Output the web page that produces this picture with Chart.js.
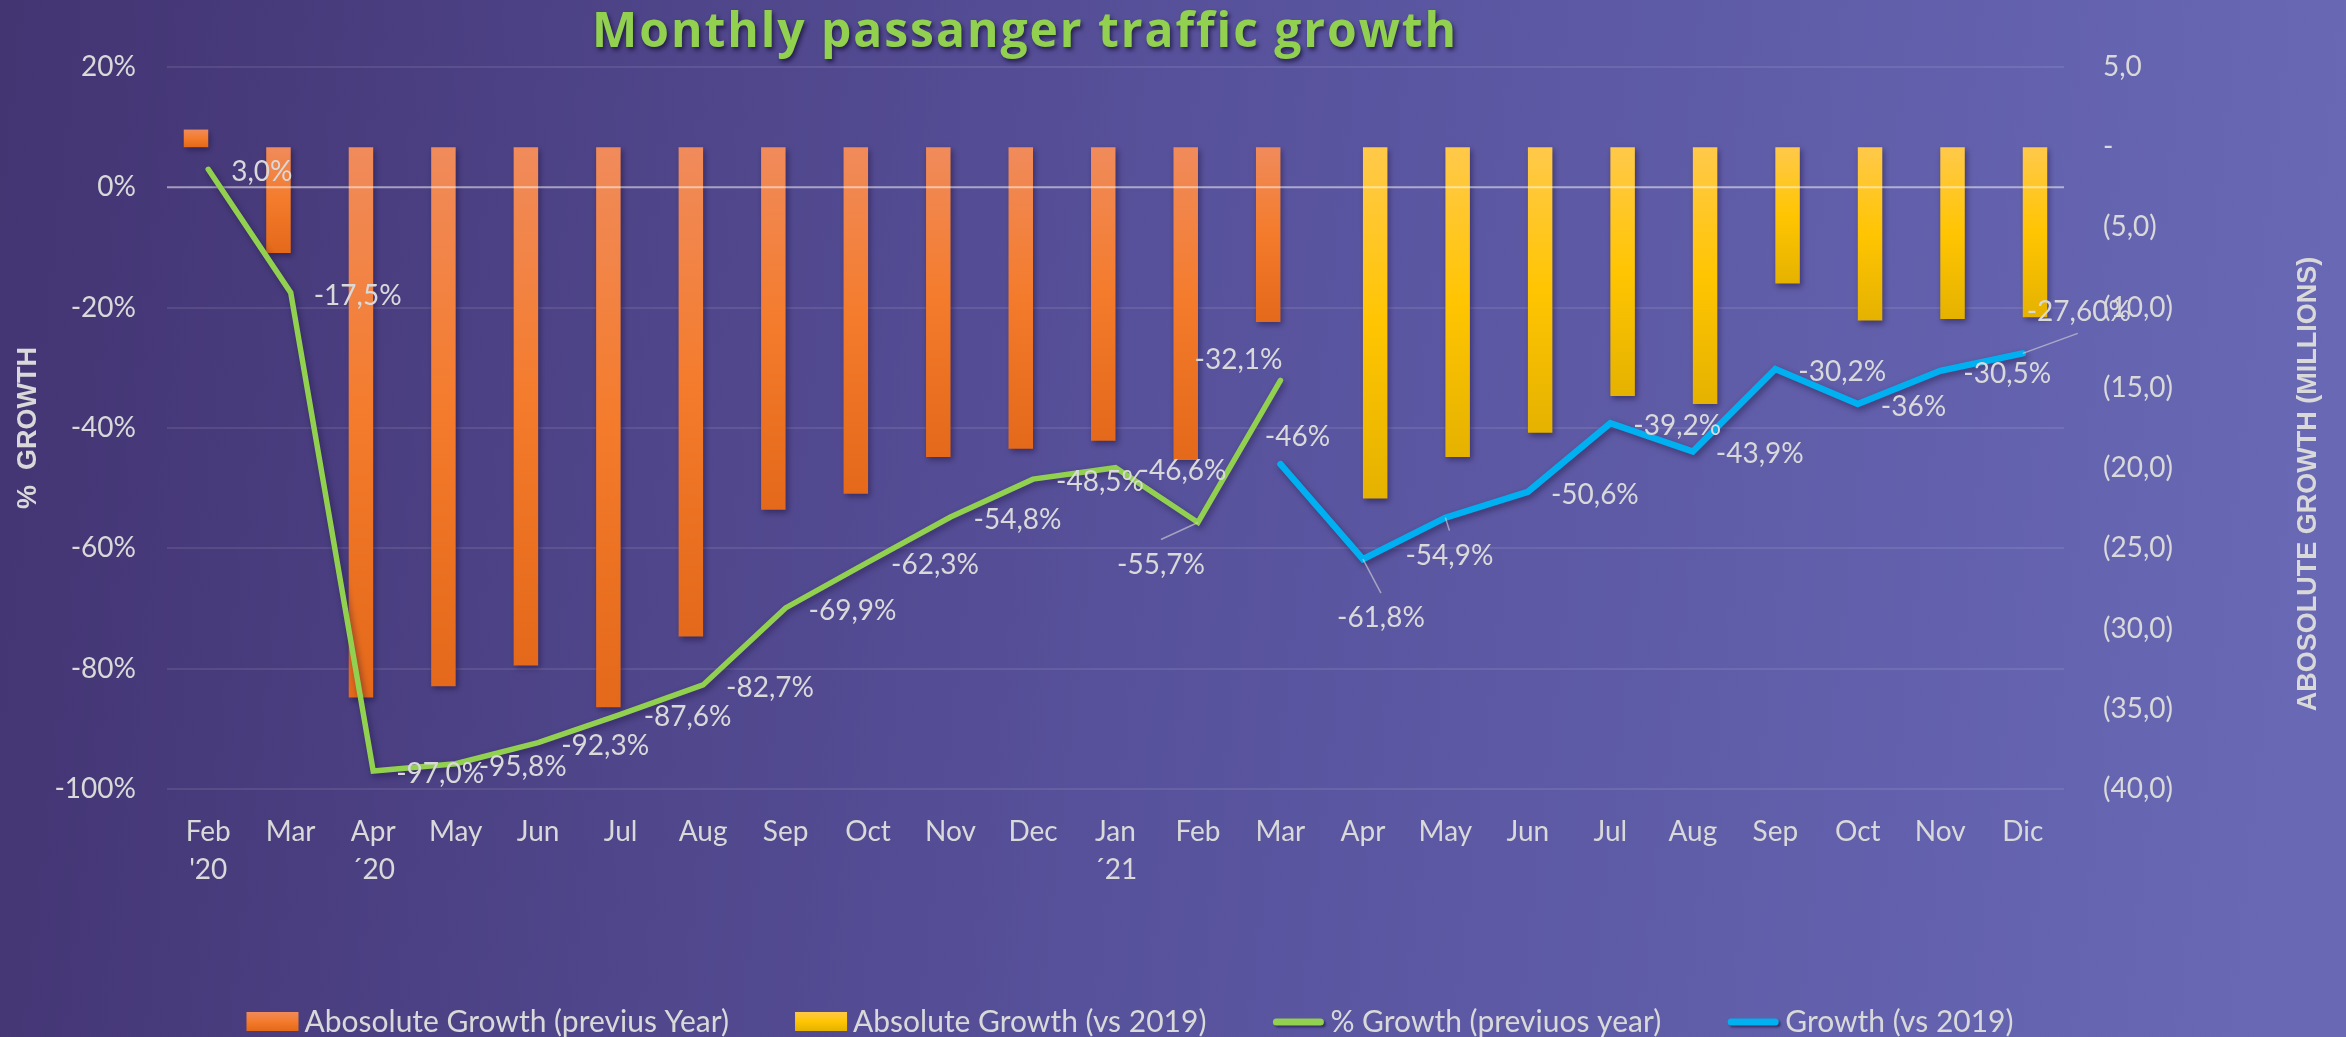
<!DOCTYPE html>
<html>
<head>
<meta charset="utf-8">
<title>Monthly passanger traffic growth</title>
<script src="https://cdn.jsdelivr.net/npm/chart.js@4.4.1/dist/chart.umd.min.js"></script>
<style>
  html, body { margin: 0; padding: 0; overflow: hidden; background: #57519b; }
  #wrap { width: 2346px; height: 1037px; position: relative; }
</style>
</head>
<body>
<div id="wrap"><canvas id="trafficChart"></canvas></div>
<script>
const months = [['Feb', "'20"], 'Mar', ['Apr', '´20'], 'May', 'Jun', 'Jul', 'Aug', 'Sep', 'Oct', 'Nov', 'Dec',
  ['Jan', '´21'], 'Feb', 'Mar', 'Apr', 'May', 'Jun', 'Jul', 'Aug', 'Sep', 'Oct', 'Nov', 'Dic'];

// absolute growth in millions (right axis)
const absPrevYear = [1.1, -6.6, -34.3, -33.6, -32.3, -34.9, -30.5, -22.6, -21.6, -19.3, -18.8, -18.3, -19.5, -10.9,
  null, null, null, null, null, null, null, null, null];
const absVs2019 = [null, null, null, null, null, null, null, null, null, null, null, null, null, null,
  -21.9, -19.3, -17.8, -15.5, -16.0, -8.5, -10.8, -10.7, -10.6];

// % growth (left axis)
const pctPrevYear = [3.0, -17.5, -97.0, -95.8, -92.3, -87.6, -82.7, -69.9, -62.3, -54.8, -48.5, -46.6, -55.7, -32.1,
  null, null, null, null, null, null, null, null, null];
const pctVs2019 = [null, null, null, null, null, null, null, null, null, null, null, null, null,
  -46, -61.8, -54.9, -50.6, -39.2, -43.9, -30.2, -36, -30.5, -27.6];

const pctPrevYearLabels = ['3,0%', '-17,5%', '-97,0%', '-95,8%', '-92,3%', '-87,6%', '-82,7%', '-69,9%', '-62,3%',
  '-54,8%', '-48,5%', '-46,6%', '-55,7%', '-32,1%'];
const pctVs2019Labels = [null, null, null, null, null, null, null, null, null, null, null, null, null,
  '-46%', '-61,8%', '-54,9%', '-50,6%', '-39,2%', '-43,9%', '-30,2%', '-36%', '-30,5%', '-27,60%'];

const pctTicks = { min: -100, max: 20, step: 20 };
const absTicks = { min: -40, max: 5, step: 5 };

const seriesNames = ['Abosolute Growth (previus Year)', 'Absolute Growth (vs 2019)', '% Growth (previuos year)', 'Growth (vs 2019)'];

// styling
const TXT = '#d9d9d9';
const GREEN = '#92d050';
const BLUE = '#00b0f0';
const ORANGE = ['#f08b5b', '#f47b2b', '#e4691a'];
const YELLOW = ['#ffc94a', '#ffc502', '#e5b200'];

// where each point label sits relative to its point
const RIGHT = { dx: 23, dy: 3, align: 'left' };
const prevYearPlace = {
  12: { dx: -37, dy: 43, align: 'center', lead: [-37, 17] },
  13: { dx: -42, dy: -20, align: 'center' }
};
const vs2019Place = {
  13: { dx: 17, dy: -27, align: 'center' },
  14: { dx: 18, dy: 59, align: 'center', lead: [18, 34] },
  15: { dx: 4, dy: 38, align: 'center', lead: [4, 13] },
  22: { dx: 56, dy: -41, align: 'center', lead: [55, -20] }
};

function accounting(v) {
  if (v === 0) return '-';
  const s = Math.abs(v).toFixed(1).replace('.', ',');
  return v < 0 ? '(' + s + ')' : s;
}

function gradientOf(ctx, stops, top, bottom) {
  const g = ctx.createLinearGradient(0, top, 0, bottom);
  stops.forEach((c, i) => g.addColorStop(i / (stops.length - 1), c));
  return g;
}

function barFill(stops) {
  return (c) => {
    const chart = c.chart;
    const scale = chart.scales.yAbs;
    if (c.type !== 'data' || !scale || !c.parsed || c.parsed.y == null) return stops[1];
    const v = c.parsed.y;
    const top = scale.getPixelForValue(Math.max(v, 0));
    const bottom = scale.getPixelForValue(Math.min(v, 0));
    if (!isFinite(top) || !isFinite(bottom) || bottom - top < 1) return stops[1];
    return gradientOf(chart.ctx, stops, top, bottom);
  };
}

const backdrop = {
  id: 'backdrop',
  beforeDraw(chart) {
    const { ctx, width, height } = chart;
    const g = ctx.createLinearGradient(0, 0, width, height * 0.25);
    g.addColorStop(0, '#433472');
    g.addColorStop(0.5, '#57519b');
    g.addColorStop(1, '#6868b5');
    ctx.save();
    ctx.fillStyle = g;
    ctx.fillRect(0, 0, width, height);
    ctx.restore();
  }
};

let zeroDrawn = false;
const layers = {
  id: 'layers',
  beforeDraw() { zeroDrawn = false; },
  beforeDatasetDraw(chart, args) {
    const ctx = chart.ctx;
    if (args.meta.type === 'line' && !zeroDrawn) {
      // 0% line sits over the bars
      const y = chart.scales.yPct.getPixelForValue(0);
      ctx.save();
      ctx.strokeStyle = 'rgba(255,255,255,0.5)';
      ctx.lineWidth = 2;
      ctx.beginPath();
      ctx.moveTo(chart.chartArea.left, y);
      ctx.lineTo(chart.chartArea.right, y);
      ctx.stroke();
      ctx.restore();
      zeroDrawn = true;
    }
    ctx.save();
    ctx.shadowColor = 'rgba(20,10,50,0.45)';
    ctx.shadowBlur = 6;
    ctx.shadowOffsetX = 2;
    ctx.shadowOffsetY = 3;
  },
  afterDatasetDraw(chart) {
    chart.ctx.restore();
  }
};

const pointLabels = {
  id: 'pointLabels',
  afterDatasetsDraw(chart) {
    const ctx = chart.ctx;
    const sets = [[2, pctPrevYearLabels, prevYearPlace], [3, pctVs2019Labels, vs2019Place]];
    ctx.save();
    ctx.font = '28px Lato';
    ctx.textBaseline = 'middle';
    sets.forEach(([di, texts, places]) => {
      const meta = chart.getDatasetMeta(di);
      meta.data.forEach((pt, i) => {
        const text = texts[i];
        if (!text || pt.skip) return;
        const p = places[i] || RIGHT;
        if (p.lead) {
          ctx.strokeStyle = 'rgba(217,217,217,0.6)';
          ctx.lineWidth = 1.5;
          ctx.beginPath();
          ctx.moveTo(pt.x, pt.y);
          ctx.lineTo(pt.x + p.lead[0], pt.y + p.lead[1]);
          ctx.stroke();
        }
        ctx.fillStyle = TXT;
        ctx.textAlign = p.align;
        ctx.fillText(text, pt.x + p.dx, pt.y + p.dy);
      });
    });
    ctx.restore();
  }
};

const decorations = {
  id: 'decorations',
  afterDraw(chart) {
    const ctx = chart.ctx;
    ctx.save();

    // title
    const title = 'Monthly passanger traffic growth';
    ctx.font = 'bold 48px "Open Sans"';
    const w0 = ctx.measureText(title).width;
    ctx.letterSpacing = ((864 - w0) / (title.length - 1)).toFixed(2) + 'px';
    ctx.textAlign = 'left';
    ctx.textBaseline = 'alphabetic';
    ctx.shadowColor = 'rgba(10,5,30,0.6)';
    ctx.shadowBlur = 4;
    ctx.shadowOffsetX = 2;
    ctx.shadowOffsetY = 3;
    ctx.fillStyle = GREEN;
    ctx.fillText(title, 592, 47);
    ctx.letterSpacing = '0px';
    ctx.shadowColor = 'rgba(0,0,0,0)';

    // axis titles
    ctx.font = 'bold 27px "Liberation Sans"';
    ctx.fillStyle = TXT;
    ctx.textAlign = 'center';
    ctx.textBaseline = 'middle';
    [['%  GROWTH', 29, 428], ['ABOSOLUTE GROWTH (MILLIONS)', 2309, 484]].forEach(([t, x, y]) => {
      ctx.save();
      ctx.translate(x, y);
      ctx.rotate(-Math.PI / 2);
      ctx.fillText(t, 0, 0);
      ctx.restore();
    });

    // legend
    ctx.font = '30px Lato';
    const swatchW = 52, gap = 6, spacing = 66, cy = 1022;
    const widths = chart.data.datasets.map(ds => swatchW + gap + ctx.measureText(ds.label).width);
    const total = widths.reduce((a, b) => a + b, 0) + spacing * (widths.length - 1);
    let x = 1130 - total / 2;
    chart.data.datasets.forEach((ds, i) => {
      if (ds.type === 'line') {
        ctx.save();
        ctx.shadowColor = 'rgba(20,10,50,0.5)';
        ctx.shadowOffsetY = 2;
        ctx.shadowBlur = 2;
        ctx.strokeStyle = ds.borderColor;
        ctx.lineWidth = 7;
        ctx.lineCap = 'round';
        ctx.beginPath();
        ctx.moveTo(x + 4, cy);
        ctx.lineTo(x + swatchW - 4, cy);
        ctx.stroke();
        ctx.restore();
      } else {
        const stops = i === 0 ? ORANGE : YELLOW;
        ctx.fillStyle = gradientOf(ctx, stops, cy - 10, cy + 9);
        ctx.fillRect(x, cy - 10, swatchW, 19);
      }
      ctx.fillStyle = TXT;
      ctx.textAlign = 'left';
      ctx.fillText(ds.label, x + swatchW + gap, cy);
      x += widths[i] + spacing;
    });
    ctx.restore();
  }
};

Chart.defaults.font.family = 'Lato';
Chart.defaults.color = TXT;

new Chart(document.getElementById('trafficChart'), {
  type: 'bar',
  data: {
    labels: months,
    datasets: [
      {
        label: seriesNames[0], data: absPrevYear, yAxisID: 'yAbs', order: 2,
        backgroundColor: barFill(ORANGE), borderWidth: 0,
        categoryPercentage: 0.594, barPercentage: 1
      },
      {
        label: seriesNames[1], data: absVs2019, yAxisID: 'yAbs', order: 2,
        backgroundColor: barFill(YELLOW), borderWidth: 0,
        categoryPercentage: 0.594, barPercentage: 1
      },
      {
        type: 'line', label: seriesNames[2], data: pctPrevYear, yAxisID: 'yPct', order: 1,
        borderColor: GREEN, backgroundColor: GREEN, borderWidth: 5.5, pointRadius: 0,
        borderCapStyle: 'round', borderJoinStyle: 'miter', tension: 0
      },
      {
        type: 'line', label: seriesNames[3], data: pctVs2019, yAxisID: 'yPct', order: 1,
        borderColor: BLUE, backgroundColor: BLUE, borderWidth: 6.5, pointRadius: 0,
        borderCapStyle: 'round', borderJoinStyle: 'miter', tension: 0
      }
    ]
  },
  options: {
    responsive: true,
    maintainAspectRatio: false,
    animation: false,
    layout: { padding: { top: 67, left: 0, right: 0, bottom: 0 } },
    plugins: {
      legend: { display: false },
      tooltip: { enabled: false },
      title: { display: false }
    },
    scales: {
      x: {
        offset: true,
        grid: { display: false, drawTicks: false },
        border: { display: false },
        ticks: { color: TXT, font: { size: 28, lineHeight: '38px' }, padding: 24, maxRotation: 0, autoSkip: false },
        afterFit: s => { s.height = 248; }
      },
      yPct: {
        position: 'left',
        min: pctTicks.min, max: pctTicks.max,
        ticks: { stepSize: pctTicks.step, callback: v => v + '%', color: TXT, font: { size: 28 }, padding: 31 },
        grid: {
          color: c => (c.tick && c.tick.value === 0) ? 'rgba(0,0,0,0)' : 'rgba(255,255,255,0.09)',
          lineWidth: 2, drawTicks: false
        },
        border: { display: false },
        afterFit: s => { s.width = 167; }
      },
      yAbs: {
        position: 'right',
        min: absTicks.min, max: absTicks.max,
        ticks: { stepSize: absTicks.step, callback: v => accounting(v), color: TXT, font: { size: 28 }, padding: 39 },
        grid: { display: false, drawTicks: false },
        border: { display: false },
        afterFit: s => { s.width = 282; }
      }
    }
  },
  plugins: [backdrop, layers, pointLabels, decorations]
});
</script>
</body>
</html>
